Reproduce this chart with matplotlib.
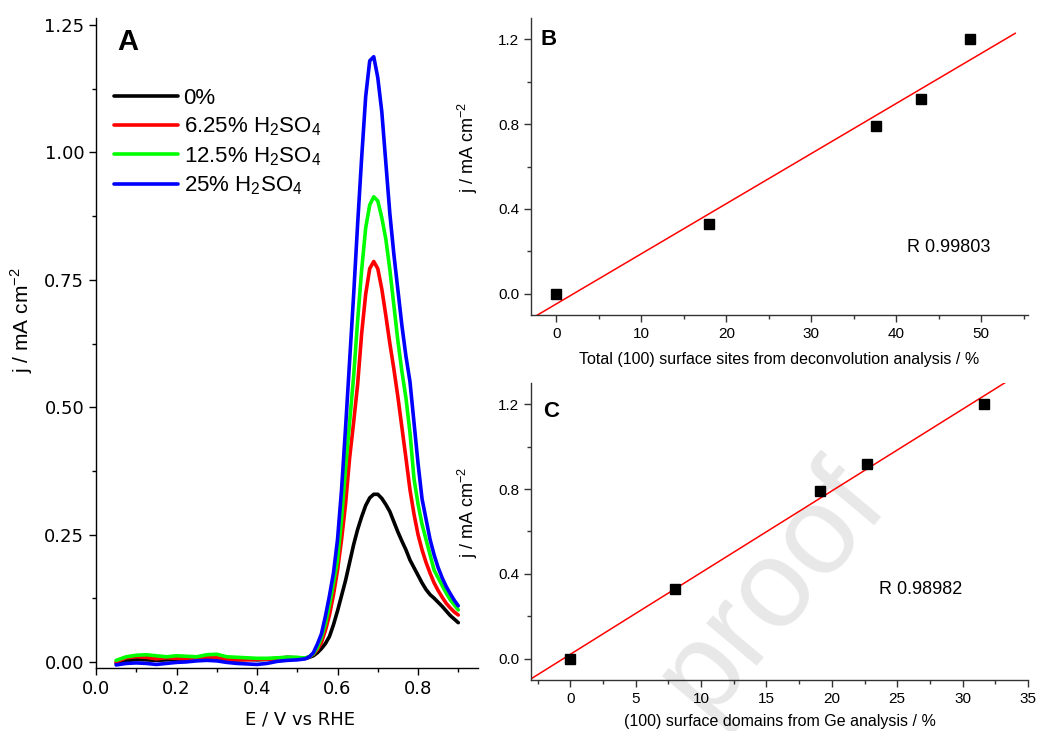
import numpy as np
import matplotlib
matplotlib.use('Agg')
from matplotlib import pyplot as plt
from matplotlib.ticker import MultipleLocator, FormatStrFormatter

plt.rcParams['font.family'] = ['Liberation Sans', 'DejaVu Sans']
plt.rcParams['mathtext.fontset'] = 'custom'
plt.rcParams['mathtext.rm'] = 'Liberation Sans'

''' Panel A data: stripping curves read off the picture '''
E = [0.05, 0.075, 0.10, 0.125, 0.15, 0.175, 0.20, 0.225, 0.25, 0.275,
     0.30, 0.325, 0.35, 0.375, 0.40, 0.425, 0.45, 0.475, 0.50,
     0.51, 0.52, 0.53, 0.54, 0.55, 0.56, 0.57, 0.58, 0.59, 0.60,
     0.61, 0.62, 0.63, 0.64, 0.65, 0.66, 0.67, 0.68, 0.69, 0.70,
     0.71, 0.72, 0.73, 0.74, 0.75, 0.76, 0.77, 0.78, 0.79, 0.80,
     0.81, 0.82, 0.83, 0.84, 0.85, 0.86, 0.87, 0.88, 0.89, 0.90]

j_0 = [-0.003, 0.002, 0.005, 0.004, 0.003, 0.004, 0.005, 0.004, 0.004, 0.006,
       0.006, 0.004, 0.004, 0.005, 0.004, 0.005, 0.007, 0.009, 0.008,
       0.007, 0.007, 0.009, 0.012, 0.018, 0.026, 0.036, 0.050, 0.073, 0.100,
       0.130, 0.160, 0.195, 0.230, 0.260, 0.285, 0.307, 0.322, 0.329, 0.329,
       0.321, 0.309, 0.295, 0.275, 0.255, 0.237, 0.220, 0.200, 0.185, 0.170,
       0.155, 0.142, 0.132, 0.125, 0.117, 0.109, 0.100, 0.091, 0.084, 0.077]

j_625 = [0.000, 0.008, 0.010, 0.009, 0.006, 0.008, 0.007, 0.006, 0.005, 0.009,
         0.008, 0.005, 0.004, 0.004, 0.005, 0.005, 0.006, 0.008, 0.008,
         0.007, 0.007, 0.010, 0.015, 0.024, 0.038, 0.062, 0.092, 0.132, 0.180,
         0.240, 0.310, 0.400, 0.470, 0.545, 0.645, 0.722, 0.772, 0.786, 0.772,
         0.732, 0.680, 0.625, 0.575, 0.520, 0.460, 0.400, 0.338, 0.290, 0.250,
         0.220, 0.195, 0.174, 0.155, 0.140, 0.127, 0.115, 0.106, 0.098, 0.092]

j_125 = [0.003, 0.010, 0.013, 0.014, 0.012, 0.010, 0.012, 0.011, 0.010, 0.014,
         0.015, 0.010, 0.009, 0.008, 0.007, 0.007, 0.008, 0.009, 0.009,
         0.008, 0.008, 0.010, 0.016, 0.028, 0.048, 0.075, 0.112, 0.155, 0.200,
         0.280, 0.380, 0.470, 0.560, 0.670, 0.770, 0.852, 0.897, 0.913, 0.905,
         0.872, 0.830, 0.770, 0.700, 0.630, 0.570, 0.518, 0.450, 0.360, 0.310,
         0.270, 0.240, 0.210, 0.180, 0.165, 0.150, 0.135, 0.122, 0.112, 0.102]

j_25 = [-0.006, -0.003, -0.002, -0.003, -0.005, -0.003, -0.001, 0.000, 0.002, 0.003,
        0.002, -0.001, -0.003, -0.004, -0.005, -0.003, 0.001, 0.003, 0.004,
        0.005, 0.006, 0.010, 0.018, 0.035, 0.055, 0.090, 0.130, 0.175, 0.240,
        0.338, 0.460, 0.590, 0.720, 0.860, 0.990, 1.110, 1.180, 1.188, 1.147,
        1.080, 0.980, 0.880, 0.800, 0.730, 0.660, 0.600, 0.550, 0.470, 0.390,
        0.320, 0.280, 0.240, 0.210, 0.185, 0.165, 0.148, 0.134, 0.121, 0.110]

labels_A = ['0%', r'6.25% H$_2$SO$_4$', r'12.5% H$_2$SO$_4$', r'25% H$_2$SO$_4$']
colors_A = ['black', '#ff0000', '#00ff00', '#0000ff']

''' Panels B and C: peak current vs (100) site fraction '''
j_peak = [0.0, 0.33, 0.79, 0.92, 1.20]
sites_deconv = [0.0, 18.0, 37.6, 42.9, 48.7]
domains_ge = [0.0, 8.0, 19.1, 22.7, 31.6]
R_B = 'R 0.99803'
R_C = 'R 0.98982'

W, H = 1037, 731
fig = plt.figure(figsize=(W / 100, H / 100), dpi=100)

def px_axes(x0, y0, x1, y1):
    # axes from pixel box (top-left origin)
    return fig.add_axes([x0 / W, 1 - y1 / H, (x1 - x0) / W, (y1 - y0) / H])

def style_axes(ax, fs, color='black'):
    for s in ['top', 'right']:
        ax.spines[s].set_visible(False)
    for s in ['left', 'bottom']:
        ax.spines[s].set_color(color)
        ax.spines[s].set_linewidth(1.0)
    ax.tick_params(which='major', direction='out', length=5, width=1.0,
                   labelsize=fs, color=color)
    ax.tick_params(which='minor', direction='out', length=3, width=1.0, color=color)

# watermark, behind everything
fig.text(0.745, 0.195, 'proof', fontsize=90, color='#e8e8e8', rotation=50,
         ha='center', va='center', zorder=-1)

''' A '''
axA = px_axes(96, 18, 478, 668)
axA.patch.set_alpha(0)
for jj, lab, c in zip([j_0, j_625, j_125, j_25], labels_A, colors_A):
    axA.plot(E, jj, color=c, lw=2.6, label=lab, solid_capstyle='round',
             solid_joinstyle='round')
axA.set_xlim(0, 0.949)
axA.set_ylim(-0.012, 1.264)
axA.xaxis.set_major_locator(MultipleLocator(0.2))
axA.xaxis.set_minor_locator(MultipleLocator(0.1))
axA.yaxis.set_major_locator(MultipleLocator(0.25))
axA.yaxis.set_minor_locator(MultipleLocator(0.125))
axA.xaxis.set_major_formatter(FormatStrFormatter('%.1f'))
axA.yaxis.set_major_formatter(FormatStrFormatter('%.2f'))
style_axes(axA, 13)
for t in axA.get_xticklabels() + axA.get_yticklabels():
    t.set_family('DejaVu Sans')
axA.set_xlabel('E / V vs RHE', fontsize=13, family='DejaVu Sans')
axA.xaxis.set_label_coords(0.534, -0.065)
axA.set_ylabel(r'j / mA cm$^{-2}$', fontsize=15)
axA.yaxis.set_label_coords(-0.16, 0.535)
axA.text(0.055, 0.963, 'A', transform=axA.transAxes, fontsize=21,
         fontweight='bold', va='center', ha='left')
axA.legend(loc='upper left', bbox_to_anchor=(0.046, 0.892), frameon=False,
           fontsize=16, handlelength=2.9, handletextpad=0.25,
           labelspacing=0.3, borderpad=0, borderaxespad=0)

''' B '''
axB = px_axes(531, 18, 1028, 315)
axB.patch.set_alpha(0)
xfit = np.array([-3, 54])
kB = np.polyfit(sites_deconv, j_peak, 1)
axB.plot(xfit, np.polyval(kB, xfit), color='#ff0000', lw=1.1)
axB.plot(sites_deconv, j_peak, 's', color='black', ms=7)
axB.set_xlim(-3, 55.5)
axB.set_ylim(-0.1, 1.3)
axB.xaxis.set_major_locator(MultipleLocator(10))
axB.xaxis.set_minor_locator(MultipleLocator(5))
axB.yaxis.set_major_locator(MultipleLocator(0.4))
axB.yaxis.set_minor_locator(MultipleLocator(0.2))
axB.yaxis.set_major_formatter(FormatStrFormatter('%.1f'))
style_axes(axB, 11, '#333333')
axB.set_xlabel('Total (100) surface sites from deconvolution analysis / %', fontsize=11.5)
axB.xaxis.set_label_coords(0.5, -0.125)
axB.set_ylabel(r'j / mA cm$^{-2}$', fontsize=13)
axB.yaxis.set_label_coords(-0.103, 0.566)
axB.text(0.02, 0.928, 'B', transform=axB.transAxes, fontsize=16,
         fontweight='bold', va='center')
axB.text(41.3, 0.22, R_B, fontsize=13, va='center')

''' C '''
axC = px_axes(531, 383, 1028, 680)
axC.patch.set_alpha(0)
xfit = np.array([-3, 35])
kC = np.polyfit(domains_ge, j_peak, 1)
axC.plot(xfit, np.polyval(kC, xfit), color='#ff0000', lw=1.1)
axC.plot(domains_ge, j_peak, 's', color='black', ms=7)
axC.set_xlim(-3, 35)
axC.set_ylim(-0.1, 1.3)
axC.xaxis.set_major_locator(MultipleLocator(5))
axC.xaxis.set_minor_locator(MultipleLocator(2.5))
axC.yaxis.set_major_locator(MultipleLocator(0.4))
axC.yaxis.set_minor_locator(MultipleLocator(0.2))
axC.yaxis.set_major_formatter(FormatStrFormatter('%.1f'))
style_axes(axC, 11, '#333333')
axC.set_xlabel('(100) surface domains from Ge analysis / %', fontsize=11.5)
axC.xaxis.set_label_coords(0.5, -0.113)
axC.set_ylabel(r'j / mA cm$^{-2}$', fontsize=13)
axC.yaxis.set_label_coords(-0.103, 0.566)
axC.text(0.025, 0.905, 'C', transform=axC.transAxes, fontsize=16,
         fontweight='bold', va='center')
axC.text(23.6, 0.325, R_C, fontsize=13, va='center')

fig.savefig('out.png', dpi=100)
